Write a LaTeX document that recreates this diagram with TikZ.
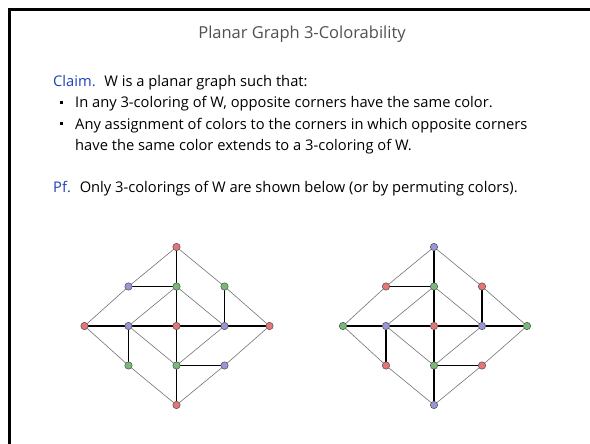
\documentclass[tikz,border=0pt]{standalone}
\usepackage{fontspec}
\setmainfont{Open Sans}
\usetikzlibrary{backgrounds}

\definecolor{vred}{RGB}{230,118,118}
\definecolor{vgreen}{RGB}{118,186,118}
\definecolor{vblue}{RGB}{150,150,216}
\definecolor{claimblue}{RGB}{28,64,184}
\definecolor{titlegray}{RGB}{80,80,80}

\begin{document}
\begin{tikzpicture}[
  x=1pt, y=-1pt,
  txt/.style={anchor=base west, inner sep=0pt, font=\fontsize{14.7}{17}\selectfont},
  bulletbox/.style={fill=black, inner sep=0pt, minimum size=3pt},
  vnode/.style={circle, draw=black!70, line width=0.5pt, inner sep=0pt, minimum size=7.4pt},
  rnode/.style={vnode, fill=vred},
  gnode/.style={vnode, fill=vgreen},
  bnode/.style={vnode, fill=vblue},
  outer/.style={draw=black!55, line width=0.6pt},
  inner/.style={draw=black, line width=1.1pt}
]
  \useasboundingbox (0,0) rectangle (590,444);

  % Marco
  \draw[line width=3pt] (9,450) -- (9,10) -- (595,10);

  % Texto
  \node[txt, anchor=base, text=titlegray, font=\fontsize{16.5}{19}\selectfont] (title) at (302,39) {Planar Graph 3-Colorability};
  \node[txt] (claim) at (53,87) {\textcolor{claimblue}{Claim.}\hspace{0.6em}W is a planar graph such that:};
  \node[bulletbox] (d1) at (61.5,103) {};
  \node[txt] (item1) at (75,108) {In any 3-coloring of W, opposite corners have the same color.};
  \node[bulletbox] (d2) at (61.5,124) {};
  \node[txt] (item2) at (75,129) {Any assignment of colors to the corners in which opposite corners};
  \node[txt] (item2b) at (75,150) {have the same color extends to a 3-coloring of W.};
  \node[txt] (pf) at (53,193) {\textcolor{claimblue}{Pf.}\hspace{0.6em}Only 3-colorings of W are shown below (or by permuting colors).};

  % Primera coloracion
  \begin{scope}[shift={(176.5,326)}, name prefix=L-]
    \node[rnode] (v1) at (0,-79) {};
    \node[bnode] (v2) at (-48,-39.5) {};
    \node[gnode] (v3) at (0,-39.5) {};
    \node[gnode] (v4) at (48,-39.5) {};
    \node[rnode] (v5) at (-92,0) {};
    \node[bnode] (v6) at (-48,0) {};
    \node[rnode] (v7) at (0,0) {};
    \node[bnode] (v8) at (48,0) {};
    \node[rnode] (v9) at (93,0) {};
    \node[gnode] (v10) at (-48,39.5) {};
    \node[gnode] (v11) at (0,39.5) {};
    \node[bnode] (v12) at (48,39.5) {};
    \node[rnode] (v13) at (0,79) {};

    % Aristas
    \begin{pgfonlayer}{background}
    \draw[outer] (v1) -- (v2); \draw[outer] (v1) -- (v4); \draw[outer] (v2) -- (v5);
    \draw[outer] (v4) -- (v9); \draw[outer] (v5) -- (v10); \draw[outer] (v9) -- (v12);
    \draw[outer] (v10) -- (v13); \draw[outer] (v12) -- (v13);
    \draw[outer] (v3) -- (v6); \draw[outer] (v3) -- (v8);
    \draw[outer] (v6) -- (v11); \draw[outer] (v8) -- (v11);
    \draw[inner] (v1) -- (v3); \draw[inner] (v2) -- (v3); \draw[inner] (v4) -- (v8);
    \draw[inner] (v3) -- (v7); \draw[inner] (v5) -- (v6); \draw[inner] (v6) -- (v7);
    \draw[inner] (v7) -- (v8); \draw[inner] (v8) -- (v9); \draw[inner] (v6) -- (v10);
    \draw[inner] (v7) -- (v11); \draw[inner] (v11) -- (v12); \draw[inner] (v11) -- (v13);
    \end{pgfonlayer}
  \end{scope}

  % Segunda coloracion
  \begin{scope}[shift={(434,326)}, name prefix=R-]
    \node[bnode] (v1) at (0,-79) {};
    \node[rnode] (v2) at (-48,-39.5) {};
    \node[gnode] (v3) at (0,-39.5) {};
    \node[rnode] (v4) at (48,-39.5) {};
    \node[gnode] (v5) at (-91,0) {};
    \node[bnode] (v6) at (-48,0) {};
    \node[rnode] (v7) at (0,0) {};
    \node[bnode] (v8) at (48,0) {};
    \node[gnode] (v9) at (93,0) {};
    \node[rnode] (v10) at (-48,39.5) {};
    \node[gnode] (v11) at (0,39.5) {};
    \node[rnode] (v12) at (48,39.5) {};
    \node[bnode] (v13) at (0,79) {};

    % Aristas
    \begin{pgfonlayer}{background}
    \draw[outer] (v1) -- (v2); \draw[outer] (v1) -- (v4); \draw[outer] (v2) -- (v5);
    \draw[outer] (v4) -- (v9); \draw[outer] (v5) -- (v10); \draw[outer] (v9) -- (v12);
    \draw[outer] (v10) -- (v13); \draw[outer] (v12) -- (v13);
    \draw[outer] (v3) -- (v6); \draw[outer] (v3) -- (v8);
    \draw[outer] (v6) -- (v11); \draw[outer] (v8) -- (v11);
    \draw[inner] (v1) -- (v3); \draw[inner] (v2) -- (v3); \draw[inner] (v4) -- (v8);
    \draw[inner] (v3) -- (v7); \draw[inner] (v5) -- (v6); \draw[inner] (v6) -- (v7);
    \draw[inner] (v7) -- (v8); \draw[inner] (v8) -- (v9); \draw[inner] (v6) -- (v10);
    \draw[inner] (v7) -- (v11); \draw[inner] (v11) -- (v12); \draw[inner] (v11) -- (v13);
    \end{pgfonlayer}
  \end{scope}
\end{tikzpicture}
\end{document}
